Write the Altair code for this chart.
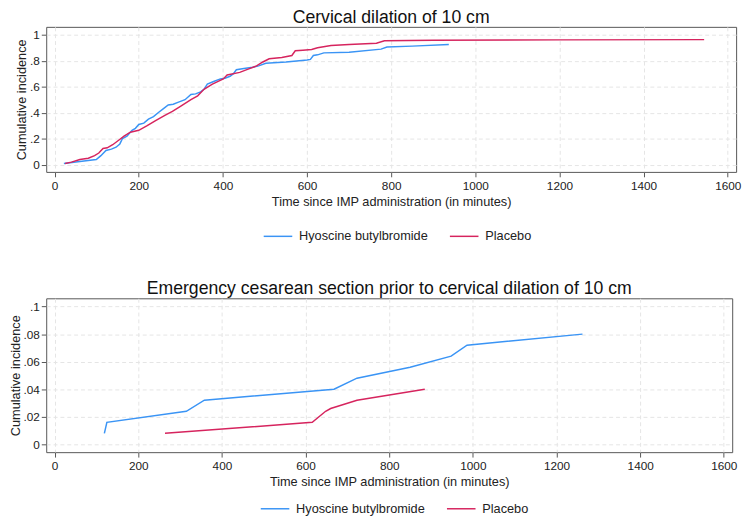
import altair as alt
import pandas as pd

# ---- Panel 1: Cervical dilation of 10 cm ----
hyo_time_1 = [22, 60, 99, 110, 122, 135, 146, 155, 161, 172, 184, 192, 200, 212, 223, 235, 246, 258,
              270, 282, 293, 310, 324, 335, 347, 355, 363, 378, 394, 405, 417, 425, 432, 450, 471, 485,
              502, 550, 600, 608, 615, 625, 640, 700, 776, 790, 850, 937]
hyo_ci_1 = [0.01, 0.025, 0.04, 0.07, 0.11, 0.12, 0.135, 0.16, 0.20, 0.22, 0.265, 0.28, 0.31, 0.32, 0.35,
            0.37, 0.40, 0.43, 0.46, 0.465, 0.48, 0.50, 0.54, 0.545, 0.56, 0.58, 0.62, 0.64, 0.66, 0.665,
            0.68, 0.70, 0.73, 0.74, 0.75, 0.76, 0.78, 0.79, 0.805, 0.81, 0.84, 0.845, 0.86, 0.865, 0.889,
            0.905, 0.912, 0.925]
pla_time_1 = [25, 40, 60, 80, 95, 105, 115, 125, 138, 153, 165, 180, 200, 220, 240, 262, 280, 300, 324,
              340, 355, 375, 401, 410, 440, 460, 480, 495, 510, 540, 564, 572, 590, 611, 625, 657, 700,
              765, 784, 900, 1200, 1544]
pla_ci_1 = [0.01, 0.02, 0.04, 0.05, 0.07, 0.09, 0.125, 0.13, 0.154, 0.19, 0.22, 0.25, 0.265, 0.30, 0.34,
            0.38, 0.41, 0.45, 0.50, 0.53, 0.58, 0.62, 0.66, 0.69, 0.71, 0.735, 0.76, 0.79, 0.815, 0.825,
            0.84, 0.876, 0.88, 0.886, 0.90, 0.917, 0.925, 0.934, 0.953, 0.957, 0.96, 0.962]

# ---- Panel 2: Emergency cesarean section ----
hyo_time_2 = [119, 125, 315, 358, 668, 723, 850, 948, 986, 1262]
hyo_ci_2 = [0.008, 0.016, 0.024, 0.032, 0.040, 0.048, 0.056, 0.064, 0.072, 0.080]
pla_time_2 = [264, 616, 648, 660, 723, 885]
pla_ci_2 = [0.008, 0.016, 0.024, 0.026, 0.032, 0.040]

groups = ["Hyoscine butylbromide", "Placebo"]
colors = ["#3A94F5", "#D6245E"]
x_ticks = [0, 200, 400, 600, 800, 1000, 1200, 1400, 1600]
y_ticks_1 = [0, 0.2, 0.4, 0.6, 0.8, 1]
y_ticks_2 = [0, 0.02, 0.04, 0.06, 0.08, 0.1]

FONT = "Liberation Sans"


def make_df(t_h, c_h, t_p, c_p):
    rows = [{"t": t, "ci": c, "group": groups[0], "o": i} for i, (t, c) in enumerate(zip(t_h, c_h))]
    rows += [{"t": t, "ci": c, "group": groups[1], "o": i} for i, (t, c) in enumerate(zip(t_p, c_p))]
    return pd.DataFrame(rows)


def panel(df, title, ydomain, yticks, w, h, legx, legy):
    return alt.Chart(df).mark_line(strokeWidth=1.5).encode(
        x=alt.X("t:Q", scale=alt.Scale(domain=[-20, 1620], nice=False, zero=False),
                axis=alt.Axis(values=x_ticks, format="d",
                              title="Time since IMP administration (in minutes)")),
        y=alt.Y("ci:Q", scale=alt.Scale(domain=ydomain, nice=False, zero=False),
                axis=alt.Axis(values=yticks, title="Cumulative incidence",
                              labelExpr="replace(format(datum.value, '~g'), '0.', '.')")),
        color=alt.Color("group:N", scale=alt.Scale(domain=groups, range=colors),
                        legend=alt.Legend(orient="none", legendX=legx, legendY=legy,
                                          direction="horizontal", title=None)),
        order="o:Q",
    ).properties(
        width=w, height=h,
        title=alt.TitleParams(title, fontSize=18, font=FONT, fontWeight="normal",
                              anchor="middle", offset=0, color="#111"),
    )


top = panel(make_df(hyo_time_1, hyo_ci_1, pla_time_1, pla_ci_1), "Cervical dilation of 10 cm",
            [-0.055, 1.06], y_ticks_1, 704, 148, 221, 198)
bottom = panel(make_df(hyo_time_2, hyo_ci_2, pla_time_2, pla_ci_2),
               "Emergency cesarean section prior to cervical dilation of 10 cm",
               [-0.0057, 0.106], y_ticks_2, 700, 157, 218, 199)

PAD = {"top": -5, "left": 0, "right": 0, "bottom": 0}

chart = alt.concat(top, bottom, columns=1, align="none", spacing=36).resolve_legend(
    color="independent"
).properties(
    padding=PAD
).configure(
    padding=PAD
).configure_view(
    stroke="#555555", strokeWidth=1
).configure_axis(
    labelFont=FONT, titleFont=FONT, labelFontSize=12, titleFontSize=13,
    labelColor="#222", titleColor="#222", titleFontWeight="normal",
    domain=False, tickColor="#555", tickSize=5, labelPadding=4,
    grid=True, gridColor="#e4e4e4", gridDash=[4, 3], gridWidth=1,
).configure_axisX(titlePadding=4).configure_axisY(titlePadding=1, labelPadding=2).configure_legend(
    labelFont=FONT, labelFontSize=13, labelColor="#222", symbolType="stroke",
    symbolSize=850, symbolStrokeWidth=1.5, columnPadding=18, labelOffset=6,
)

chart.save("out.html", embed_options={"renderer": "svg", "actions": False})
